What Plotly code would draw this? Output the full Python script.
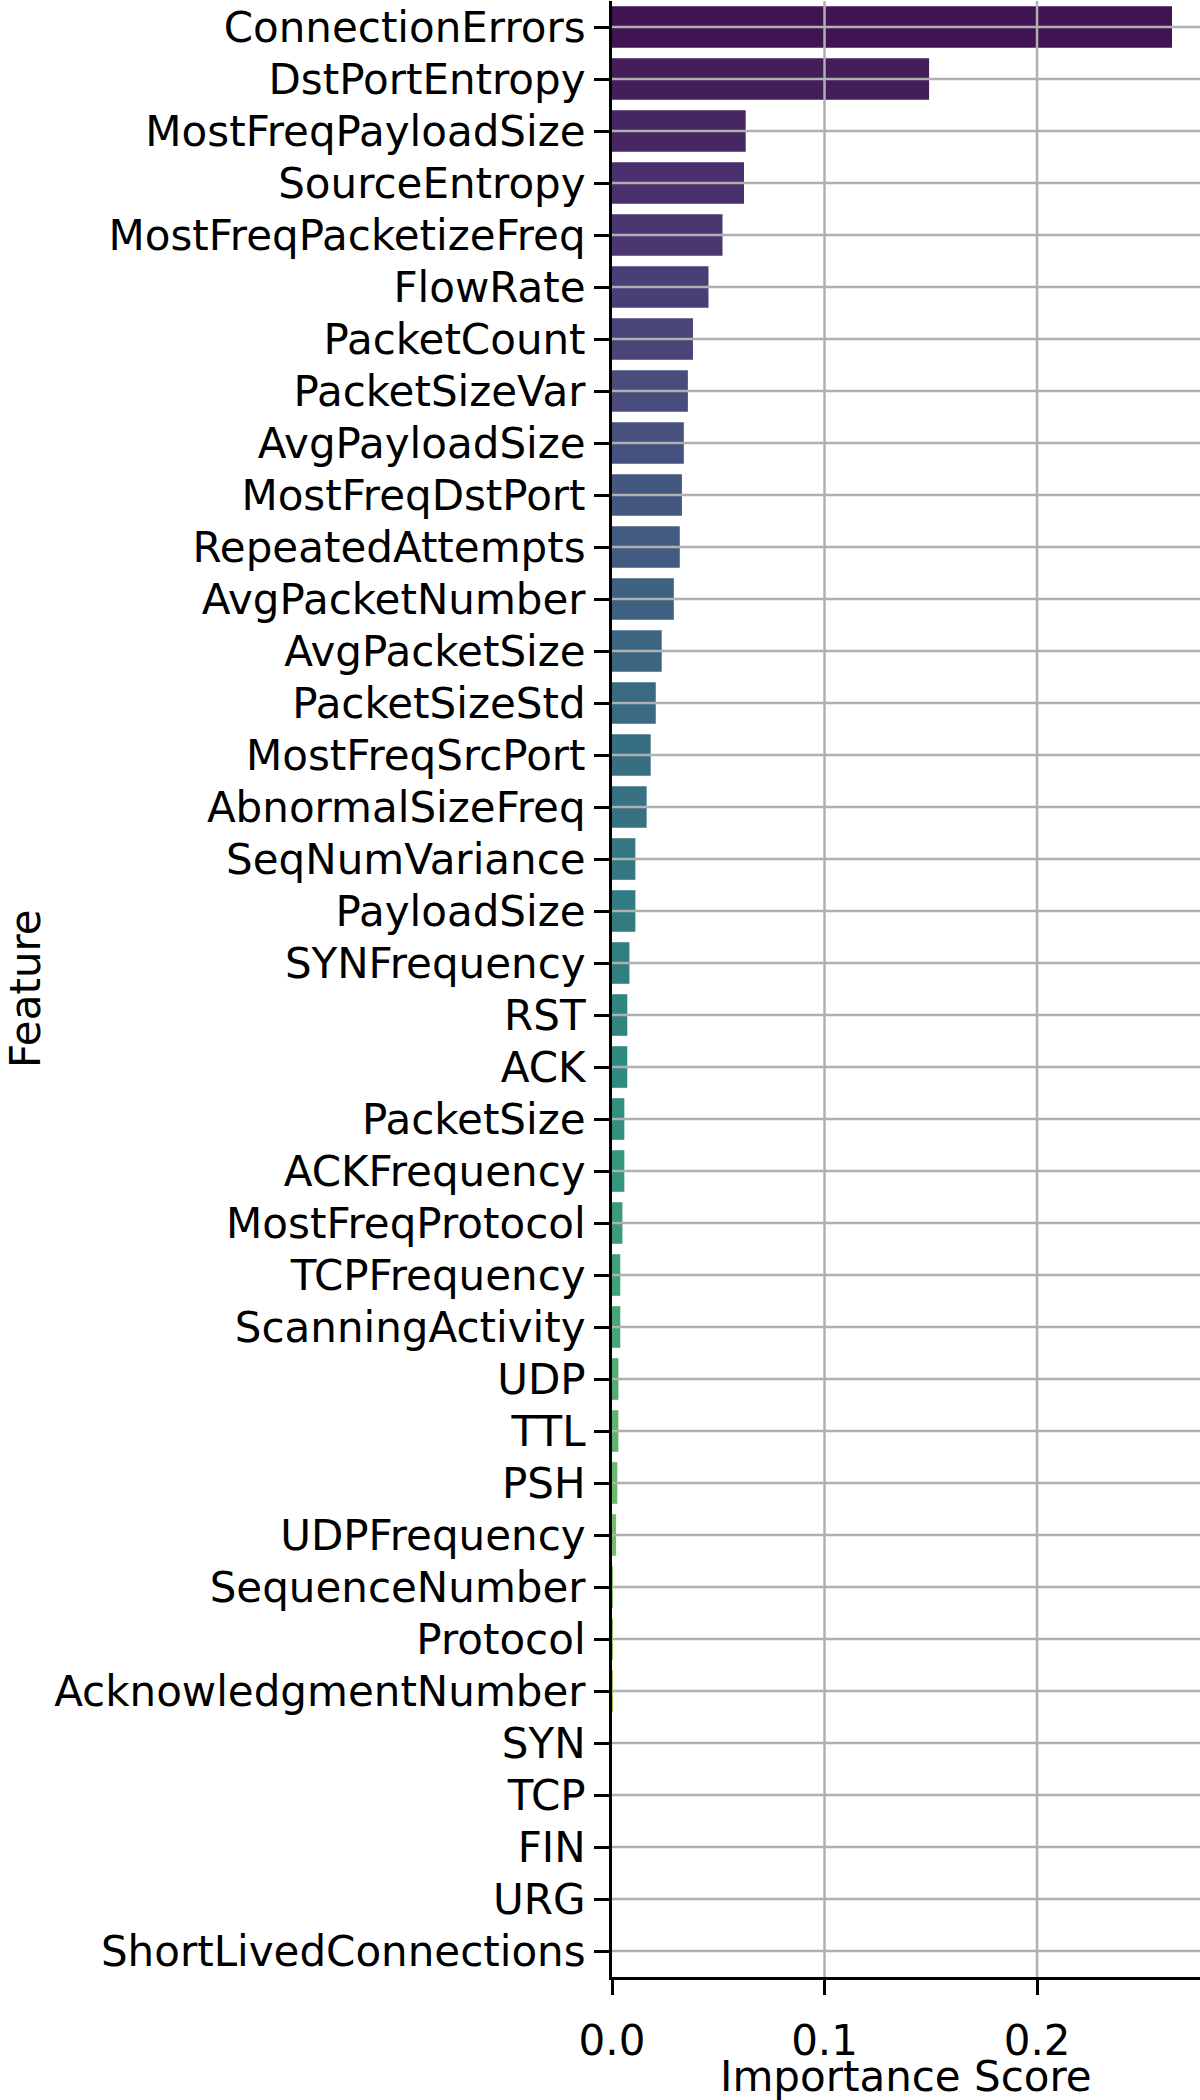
import colorsys
import plotly.graph_objects as go
from plotly.colors import sample_colorscale, unlabel_rgb

# feature importances (sorted high -> low)
features = ["ConnectionErrors", "DstPortEntropy", "MostFreqPayloadSize", "SourceEntropy",
            "MostFreqPacketizeFreq", "FlowRate", "PacketCount", "PacketSizeVar",
            "AvgPayloadSize", "MostFreqDstPort", "RepeatedAttempts", "AvgPacketNumber",
            "AvgPacketSize", "PacketSizeStd", "MostFreqSrcPort", "AbnormalSizeFreq",
            "SeqNumVariance", "PayloadSize", "SYNFrequency", "RST", "ACK", "PacketSize",
            "ACKFrequency", "MostFreqProtocol", "TCPFrequency", "ScanningActivity", "UDP",
            "TTL", "PSH", "UDPFrequency", "SequenceNumber", "Protocol",
            "AcknowledgmentNumber", "SYN", "TCP", "FIN", "URG", "ShortLivedConnections"]
scores = [0.2635, 0.1492, 0.0629, 0.0621, 0.0520, 0.0454, 0.0381, 0.0357,
          0.0338, 0.0329, 0.0319, 0.0291, 0.0234, 0.0206, 0.0182, 0.0163,
          0.0110, 0.0110, 0.0082, 0.0072, 0.0072, 0.0058, 0.0058, 0.0049,
          0.0039, 0.0039, 0.0030, 0.0030, 0.0025, 0.0019, 0.0004, 0.0003,
          0.0001, 0.0, 0.0, 0.0, 0.0, 0.0]
xticks = [0.0, 0.1, 0.2]

# seaborn-style viridis palette (skip the ends) with saturation 0.75
n = len(features)
pos = [(i + 1) / (n + 1) for i in range(n)]
colors = []
for c in sample_colorscale("Viridis", pos):
    r, g, b = [v / 255 for v in unlabel_rgb(c)]
    h, l, s = colorsys.rgb_to_hls(r, g, b)
    r, g, b = colorsys.hls_to_rgb(h, l, s * 0.75)
    colors.append("rgb(%d,%d,%d)" % (round(r * 255), round(g * 255), round(b * 255)))

FONT = "DejaVu Sans"
FS = 42
GRID = "#b0b0b0"

fig = go.Figure()
fig.add_trace(go.Bar(x=scores, y=features, orientation="h",
                     marker=dict(color=colors, line=dict(width=0)),
                     width=0.8, showlegend=False))

# grid drawn above the bars, like the matplotlib original
for f in features:
    fig.add_shape(type="line", xref="paper", x0=0, x1=1, yref="y", y0=f, y1=f,
                  line=dict(color=GRID, width=2.5), layer="above")
for t in xticks[1:]:
    fig.add_shape(type="line", xref="x", x0=t, x1=t, yref="paper", y0=0, y1=1,
                  line=dict(color=GRID, width=2.5), layer="above")

fig.add_annotation(text="Importance Score", xref="paper", yref="paper",
                   x=0.5, y=-0.0505, xanchor="center", yanchor="middle",
                   showarrow=False, font=dict(family=FONT, size=FS, color="black"))
fig.add_annotation(text="Feature", xref="paper", yref="paper",
                   x=(25 - 612) / 588, y=0.5, xanchor="center", yanchor="middle",
                   textangle=-90, showarrow=False,
                   font=dict(family=FONT, size=FS, color="black"))

fig.update_xaxes(range=[0, max(scores) * 1.05], tickvals=xticks,
                 ticktext=["%.1f" % t for t in xticks],
                 showgrid=False, zeroline=False,
                 showline=True, linecolor="black", linewidth=3,
                 ticks="outside", ticklen=15, tickwidth=3, tickcolor="black",
                 ticklabelstandoff=10,
                 tickfont=dict(family=FONT, size=FS, color="black"),
                 layer="above traces")
fig.update_yaxes(categoryorder="array", categoryarray=features,
                 range=[n - 0.5, -0.5], showgrid=False, zeroline=False,
                 showline=True, linecolor="black", linewidth=3,
                 ticks="outside", ticklen=15, tickwidth=3, tickcolor="black",
                 tickfont=dict(family=FONT, size=FS, color="black"),
                 layer="above traces")

fig.update_layout(width=1200, height=2100,
                  margin=dict(l=612, r=0, t=1, b=123),
                  plot_bgcolor="white", paper_bgcolor="white",
                  bargap=0.2)

fig.write_html("out.html", config={"displayModeBar": False},
               post_script="document.body.style.margin='0';")
